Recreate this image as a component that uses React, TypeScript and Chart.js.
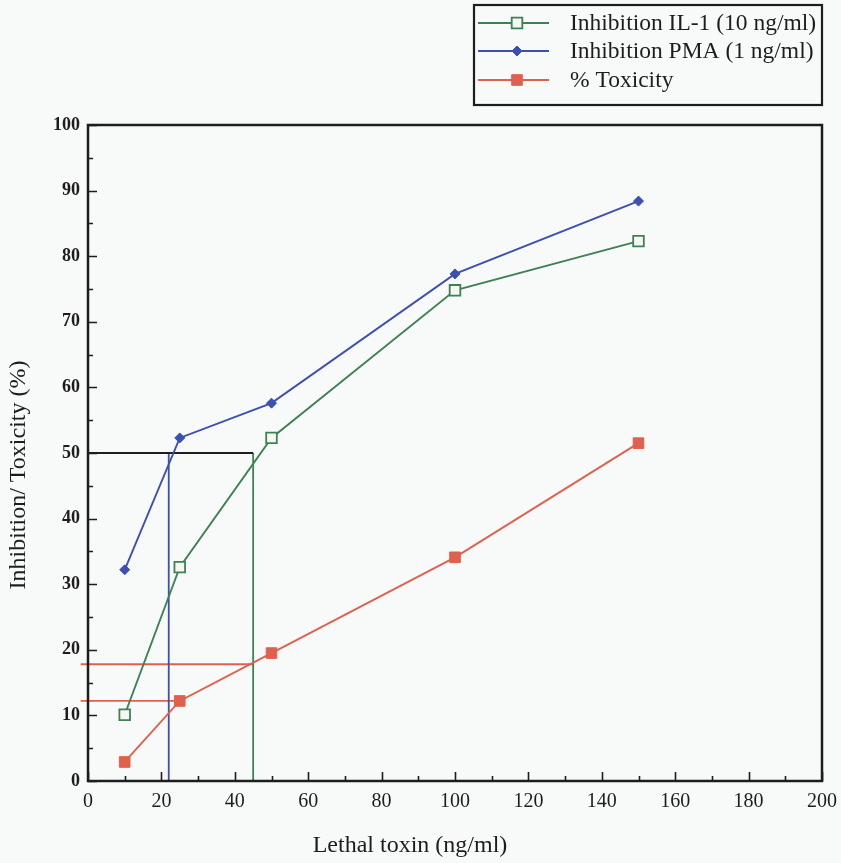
import React, { useEffect, useRef } from "react";
import { Chart, registerables } from "chart.js";

Chart.register(...registerables);

// Lethal toxin doses (ng/ml)
const doses = [10, 25, 50, 100, 150];
// Inhibition of IL-1 (10 ng/ml) induced response, %
const inhibitionIL1 = [10.1, 32.6, 52.3, 74.8, 82.3];
// Inhibition of PMA (1 ng/ml) induced response, %
const inhibitionPMA = [32.2, 52.3, 57.6, 77.3, 88.4];
// Cell toxicity, %
const toxicity = [2.9, 12.2, 19.5, 34.1, 51.5];

const seriesLabels = ["Inhibition IL-1 (10 ng/ml)", "Inhibition PMA (1 ng/ml)", "% Toxicity"];
const xTicks = [0, 20, 40, 60, 80, 100, 120, 140, 160, 180, 200];
const yTicks = [0, 10, 20, 30, 40, 50, 60, 70, 80, 90, 100];

// 50% inhibition read-off (IC50 doses) and matching toxicity levels
const halfLevel = 50;
const ic50PMA = 22;
const ic50IL1 = 45;
const toxAtIL1 = 17.8;
const toxAtPMA = 12.2;
const guideStart = -2;

const GREEN = "#3f8152";
const BLUE = "#3c4fb2";
const RED = "#e0604e";
const INK = "#1d1d1d";
const SERIF = '"Liberation Serif", "DejaVu Serif", serif';

const pts = (ys: number[]) => doses.map((x, i) => ({ x, y: ys[i] }));

// legend marker, mirroring each series' point style
function drawMarker(ctx: CanvasRenderingContext2D, ds: any, x: number, y: number) {
  const r = ds.pointRadius;
  ctx.save();
  ctx.lineWidth = ds.pointBorderWidth;
  ctx.strokeStyle = ds.borderColor;
  ctx.fillStyle = ds.backgroundColor;
  ctx.beginPath();
  if (ds.pointStyle === "rectRot") {
    ctx.moveTo(x, y - r);
    ctx.lineTo(x + r, y);
    ctx.lineTo(x, y + r);
    ctx.lineTo(x - r, y);
    ctx.closePath();
  } else {
    const h = r * Math.SQRT1_2;
    ctx.rect(x - h, y - h, 2 * h, 2 * h);
  }
  ctx.fill();
  ctx.stroke();
  ctx.restore();
}

const framePlugin = {
  id: "frameAndLegend",
  afterDraw(chart: any) {
    const { ctx, chartArea: a, scales } = chart;
    const xs = scales.x;
    const ys = scales.y;
    ctx.save();
    // plot frame
    ctx.strokeStyle = INK;
    ctx.lineWidth = 2.5;
    ctx.strokeRect(a.left, a.top, a.right - a.left, a.bottom - a.top);
    // inward ticks
    ctx.lineWidth = 1.6;
    ctx.beginPath();
    for (let v = 0; v <= 100; v += 5) {
      const y = Math.round(ys.getPixelForValue(v)) + 0.5;
      const len = v % 10 === 0 ? 9 : 5;
      ctx.moveTo(a.left, y);
      ctx.lineTo(a.left + len, y);
    }
    for (let v = 0; v <= 200; v += 10) {
      const x = Math.round(xs.getPixelForValue(v)) + 0.5;
      const len = v % 20 === 0 ? 9 : 5;
      ctx.moveTo(x, a.bottom);
      ctx.lineTo(x, a.bottom - len);
    }
    ctx.stroke();

    // axis titles
    ctx.fillStyle = INK;
    ctx.font = `24px ${SERIF}`;
    ctx.textAlign = "center";
    ctx.textBaseline = "middle";
    ctx.fillText("Lethal toxin (ng/ml)", 410, 846);
    ctx.save();
    ctx.translate(19, 475);
    ctx.rotate(-Math.PI / 2);
    ctx.fillText("Inhibition/ Toxicity (%)", 0, 0);
    ctx.restore();

    // legend
    const rows = [23, 51, 80];
    ctx.font = `23.5px ${SERIF}`;
    ctx.textAlign = "left";
    rows.forEach((ry, i) => {
      const ds = chart.data.datasets[i];
      ctx.strokeStyle = ds.borderColor;
      ctx.lineWidth = 1.8;
      ctx.beginPath();
      ctx.moveTo(478, ry);
      ctx.lineTo(549, ry);
      ctx.stroke();
      drawMarker(ctx, ds, 517, ry);
      ctx.fillStyle = INK;
      ctx.fillText(seriesLabels[i], 570, ry + 1);
    });
    ctx.strokeStyle = INK;
    ctx.lineWidth = 2.2;
    ctx.strokeRect(474, 5, 348, 100);
    ctx.restore();
  },
};

export default function App() {
  const ref = useRef<HTMLCanvasElement>(null);

  useEffect(() => {
    if (!ref.current) return;
    const guide = (data: { x: number; y: number }[], color: string) => ({
      data,
      borderColor: color,
      borderWidth: 1.8,
      pointRadius: 0,
      showLine: true,
      fill: false,
      clip: false as any,
    });
    const chart = new Chart(ref.current, {
      type: "scatter",
      data: {
        datasets: [
          {
            label: seriesLabels[0],
            data: pts(inhibitionIL1),
            borderColor: GREEN,
            backgroundColor: "#f4f7f4",
            borderWidth: 1.9,
            pointStyle: "rect",
            pointRadius: 7.5,
            pointBorderWidth: 1.8,
            showLine: true,
          },
          {
            label: seriesLabels[1],
            data: pts(inhibitionPMA),
            borderColor: BLUE,
            backgroundColor: BLUE,
            borderWidth: 1.9,
            pointStyle: "rectRot",
            pointRadius: 5,
            pointBorderWidth: 1,
            showLine: true,
          },
          {
            label: seriesLabels[2],
            data: pts(toxicity),
            borderColor: RED,
            backgroundColor: RED,
            borderWidth: 1.9,
            pointStyle: "rect",
            pointRadius: 7.5,
            pointBorderWidth: 1,
            showLine: true,
          },
          guide([{ x: 0, y: halfLevel }, { x: ic50IL1, y: halfLevel }], INK),
          guide([{ x: ic50PMA, y: 0 }, { x: ic50PMA, y: halfLevel }], BLUE),
          guide([{ x: ic50IL1, y: 0 }, { x: ic50IL1, y: halfLevel }], GREEN),
          guide([{ x: guideStart, y: toxAtIL1 }, { x: ic50IL1, y: toxAtIL1 }], RED),
          guide([{ x: guideStart, y: toxAtPMA }, { x: 24, y: toxAtPMA }], RED),
        ],
      },
      options: {
        animation: false,
        responsive: false,
        layout: { padding: { top: 125, right: 19, left: 0, bottom: 0 } },
        plugins: { legend: { display: false }, tooltip: { enabled: false } },
        scales: {
          x: {
            type: "linear",
            min: 0,
            max: 200,
            afterFit: (s: any) => {
              s.height = 82;
              s.paddingLeft = 0;
              s.paddingRight = 0;
            },
            afterBuildTicks: (s: any) => {
              s.ticks = xTicks.map((v) => ({ value: v }));
            },
            grid: { display: false, tickLength: 0 },
            border: { display: false },
            ticks: {
              padding: 9,
              color: INK,
              font: { family: SERIF, size: 20 },
            },
          },
          y: {
            type: "linear",
            min: 0,
            max: 100,
            afterFit: (s: any) => {
              s.width = 88;
              s.paddingTop = 0;
              s.paddingBottom = 0;
            },
            afterBuildTicks: (s: any) => {
              s.ticks = yTicks.map((v) => ({ value: v }));
            },
            grid: { display: false, tickLength: 0 },
            border: { display: false },
            ticks: {
              padding: 8,
              color: INK,
              font: { family: SERIF, size: 18, weight: "bold" },
            },
          },
        },
      },
      plugins: [framePlugin],
    });
    return () => chart.destroy();
  }, []);

  return (
    <div
      style={{
        position: "fixed",
        left: 0,
        top: 0,
        width: 841,
        height: 863,
        background: "#f8f9f9",
      }}
    >
      <canvas ref={ref} width={841} height={863} style={{ display: "block" }} />
    </div>
  );
}
